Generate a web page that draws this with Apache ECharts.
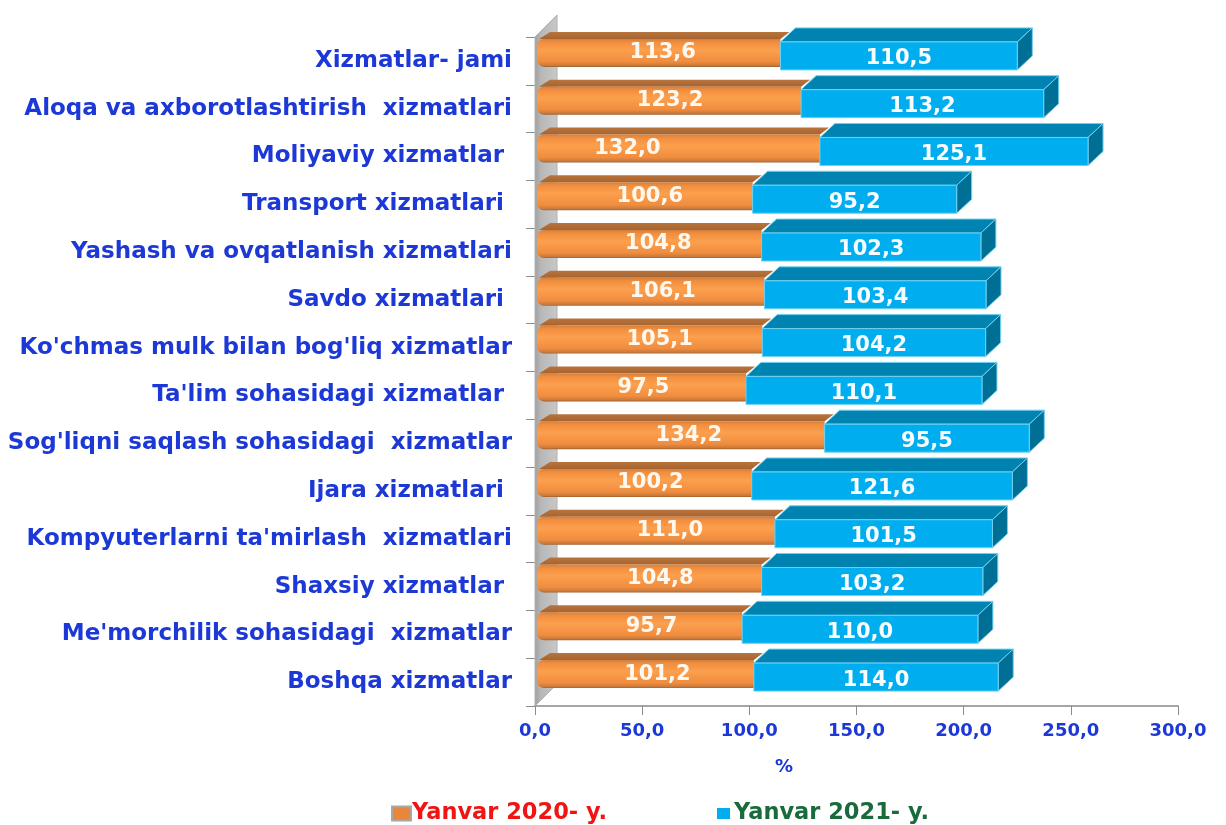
<!DOCTYPE html>
<html>
<head>
<meta charset="utf-8">
<style>html,body{margin:0;padding:0;background:#fff}#chart{width:1226px;height:825px}</style>
<script src="https://cdn.jsdelivr.net/npm/echarts@6/dist/echarts.min.js"></script>
</head>
<body>
<div id="chart"></div>
<script>
var categories = ["Xizmatlar- jami", "Aloqa va axborotlashtirish  xizmatlari", "Moliyaviy xizmatlar ", "Transport xizmatlari ",
    "Yashash va ovqatlanish xizmatlari", "Savdo xizmatlari ", "Ko'chmas mulk bilan bog'liq xizmatlar", "Ta'lim sohasidagi xizmatlar ",
    "Sog'liqni saqlash sohasidagi  xizmatlar", "Ijara xizmatlari ", "Kompyuterlarni ta'mirlash  xizmatlari", "Shaxsiy xizmatlar ",
    "Me'morchilik sohasidagi  xizmatlar", "Boshqa xizmatlar"];
var jan2020 = [113.6, 123.2, 132.0, 100.6, 104.8, 106.1, 105.1, 97.5, 134.2, 100.2, 111.0, 104.8, 95.7, 101.2];
var jan2021 = [110.5, 113.2, 125.1, 95.2, 102.3, 103.4, 104.2, 110.1, 95.5, 121.6, 101.5, 103.2, 110.0, 114.0];
var seriesNames = ['Yanvar 2020- y.', 'Yanvar 2021- y.'];
// the source puts the orange labels off centre, px from bar middle
var labelNudge = [4, 1, -51, 5, 9, 12, 10, 2, 8, 6, 14, 11, 12, 12];

var chart = echarts.init(document.getElementById('chart'));
var blueText = '#1c38d6';
var font = 'DejaVu Sans';

function fmt(v) {
    return v.toFixed(1).replace('.', ',');
}

function poly(points, fill, stroke) {
    return { type: 'polygon', shape: { points: points }, style: { fill: fill, stroke: stroke || 'none', lineWidth: 1 } };
}

function renderWall(params, api) {
    var g = params.coordSys, d = 22;
    var x = g.x, y = g.y, b = g.y + g.height;
    return { type: 'group', children: [
        poly([[x, y], [x + d, y - d], [x + d, b - d], [x, b]], {
            type: 'linear', x: 0, y: 0, x2: 1, y2: 0,
            colorStops: [{ offset: 0, color: '#a0a0a0' }, { offset: 0.3, color: '#b8b8b8' }, { offset: 1, color: '#c8c8c8' }]
        }, '#b0b0b0')
    ] };
}

function renderOrange(params, api) {
    var i = api.value(1), v = api.value(0);
    var p = api.coord([v, i]);
    var x0 = api.coord([0, i])[0] + 2, x1 = p[0] + 2;
    var top = p[1] - 22, h = 28, sk = 9, up = 7;
    return { type: 'group', children: [
        poly([[x0 + 2, top], [x0 + sk + 4, top - up], [x1 + sk, top - up], [x1, top]], {
            type: 'linear', x: 0, y: 0, x2: 0, y2: 1,
            colorStops: [{ offset: 0, color: '#b8743c' }, { offset: 1, color: '#a86430' }]
        }),
        { type: 'rect', shape: { x: x0, y: top, width: x1 - x0, height: h, r: [7, 0, 0, 7] }, style: {
            fill: {
                type: 'linear', x: 0, y: 0, x2: 0, y2: 1,
                colorStops: [{ offset: 0, color: '#d08040' }, { offset: 0.12, color: '#f28e3e' }, { offset: 0.4, color: '#fca04e' },
                    { offset: 0.82, color: '#f08c3e' }, { offset: 0.95, color: '#c87a3c' }, { offset: 1, color: '#a0602c' }]
            }
        } },
        { type: 'text', style: {
            text: fmt(v), x: (x0 + x1) / 2 + labelNudge[i], y: top + h / 2, align: 'center', verticalAlign: 'middle',
            fill: '#fff8ee', font: 'bold 21px "' + font + '"'
        } }
    ] };
}

function renderBlue(params, api) {
    var i = api.value(2), a = api.value(0), v = api.value(1);
    var x0 = api.coord([a, i])[0] + 2, x1 = api.coord([a + v, i])[0] + 2;
    var top = api.coord([a, i])[1] - 19, h = 28, d = 15, up = 14;
    var edge = '#6fd0f0';
    return { type: 'group', children: [
        poly([[x0, top], [x0 + d, top - up], [x1 + d, top - up], [x1, top]], '#0083b0', edge),
        poly([[x1, top], [x1 + d, top - up], [x1 + d, top - up + h], [x1, top + h]], '#006f96', edge),
        { type: 'rect', shape: { x: x0, y: top, width: x1 - x0, height: h }, style: { fill: '#00aeef', stroke: edge, lineWidth: 1 } },
        { type: 'text', style: {
            text: fmt(v), x: (x0 + x1) / 2, y: top + h / 2 + 3, align: 'center', verticalAlign: 'middle',
            fill: '#f6fcff', font: 'bold 21px "' + font + '"'
        } }
    ] };
}

var option = {
    animation: false,
    backgroundColor: '#fff',
    textStyle: { fontFamily: font },
    grid: { left: 535, top: 37, width: 643, height: 669, containLabel: false },
    title: {
        text: '%', left: 770, top: 753,
        textStyle: { color: blueText, fontSize: 18, fontWeight: 'bold', fontFamily: font }
    },
    legend: [
        {
            left: 386, top: 797, itemWidth: 19, itemHeight: 14, icon: 'rect', itemGap: 0,
            data: [{ name: seriesNames[0], textStyle: { color: '#f01414' } }],
            itemStyle: { borderColor: '#a8a8a8', borderWidth: 2 },
            textStyle: { fontSize: 22.5, fontWeight: 'bold', fontFamily: font, padding: [0, 0, 0, -4] }
        },
        {
            left: 712, top: 797, itemWidth: 13, itemHeight: 11, icon: 'rect', itemGap: 0,
            data: [{ name: seriesNames[1], textStyle: { color: '#1a6b3c' } }],
            textStyle: { fontSize: 22.5, fontWeight: 'bold', fontFamily: font, padding: [0, 0, 0, -1] }
        }
    ],
    xAxis: {
        type: 'value', min: 0, max: 300, interval: 50,
        splitLine: { show: false },
        axisLine: { show: true, lineStyle: { color: '#a6a6a6', width: 2 } },
        axisTick: { show: true, length: 9, lineStyle: { color: '#8c8c8c', width: 1 } },
        axisLabel: { formatter: fmt, color: blueText, fontSize: 18, fontWeight: 'bold', fontFamily: font, margin: 16 }
    },
    yAxis: {
        type: 'category', inverse: true, data: categories,
        axisLine: { show: true, onZero: false, lineStyle: { color: '#a6a6a6', width: 1 } },
        axisTick: { show: true, length: 9, lineStyle: { color: '#8c8c8c', width: 1 } },
        axisLabel: { color: blueText, fontSize: 23, fontWeight: 'bold', fontFamily: font, margin: 23, align: 'right', padding: [0, 0, 4, 0] }
    },
    series: [
        { type: 'custom', silent: true, renderItem: renderWall, data: [[0, 0]], z: 1, encode: { x: 0, y: 1 } },
        {
            name: seriesNames[0], type: 'custom', renderItem: renderOrange, z: 2,
            itemStyle: { color: '#e8873a' }, encode: { x: 0, y: 1 },
            data: jan2020.map(function (v, i) { return [v, i]; })
        },
        {
            name: seriesNames[1], type: 'custom', renderItem: renderBlue, z: 3,
            itemStyle: { color: '#00aeef' }, encode: { x: [0, 1], y: 2 },
            data: jan2021.map(function (v, i) { return [jan2020[i], v, i]; })
        }
    ]
};
chart.setOption(option);
</script>
</body>
</html>
